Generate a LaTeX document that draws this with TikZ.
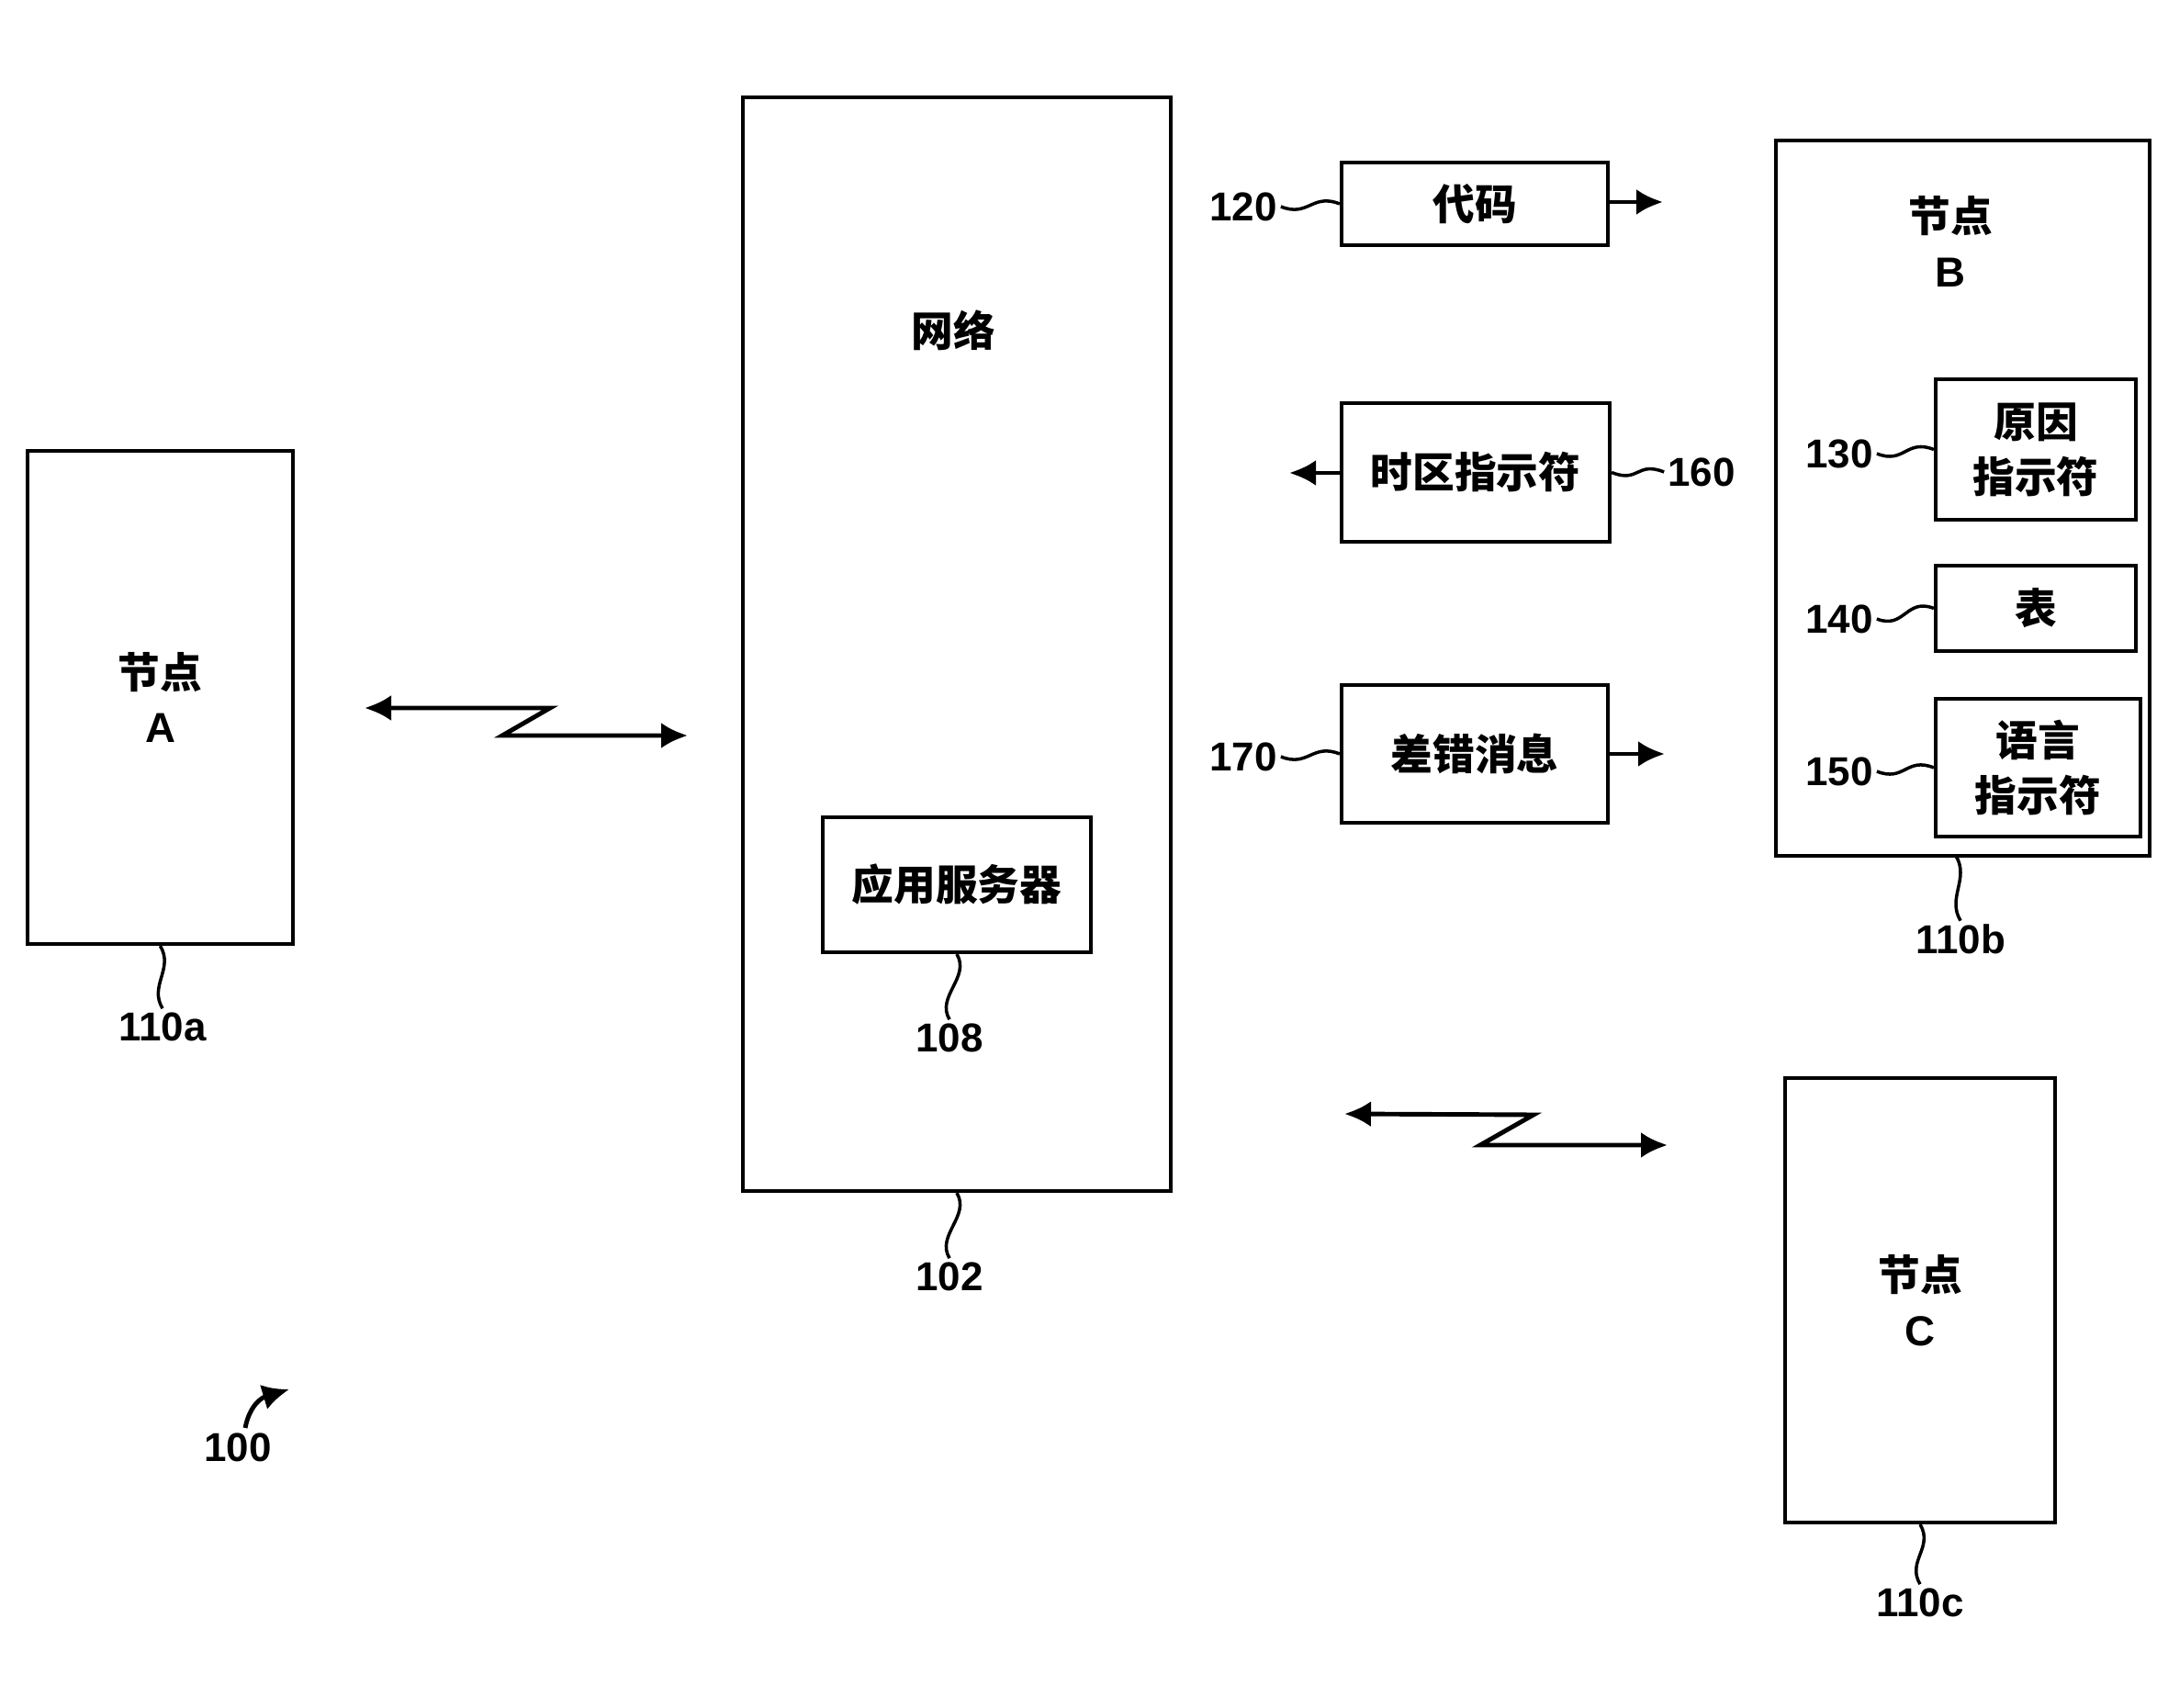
\documentclass[tikz,border=0pt]{standalone}
\usepackage{fontspec}
\setmainfont{Liberation Sans}
\newfontfamily\cjk{Noto Sans CJK SC}
\usetikzlibrary{arrows.meta}
\tikzset{%
    >={Latex[length=2.9mm,width=2.8mm]},
    box/.style={draw, line width=1.2pt, inner sep=0pt, font=\cjk\bfseries\fontsize{13}{17}\selectfont, align=center},
    txt/.style={font=\cjk\bfseries\fontsize{13}{17}\selectfont, align=center},
    num/.style={font=\bfseries\fontsize{12.5}{14}\selectfont, inner sep=1pt},
    lead/.style={line width=1pt},
    arr/.style={line width=1.4pt}
}

\begin{document}
\begin{tikzpicture}
        \useasboundingbox (0,0) rectangle (23.49,-18.60);

        % node A
        \node[box, minimum width=2.89cm, minimum height=5.37cm] (nodeA) at (1.745,-7.595) {节点\\{\normalfont\bfseries A}};
        \node[num] (n110a) at (1.77,-11.18) {110a};
        \draw[lead] (nodeA.south) .. controls +(0.15,-0.25) and +(-0.15,0.25) .. (n110a.north);

        % network with application server
        \node[box, minimum width=4.66cm, minimum height=11.91cm] (network) at (10.42,-7.015) {};
        \node[txt] (netlbl) at (10.38,-3.60) {网络};
        \node[box, minimum width=2.92cm, minimum height=1.47cm] (appsrv) at (10.42,-9.635) {应用服务器};
        \node[num] (n108) at (10.34,-11.30) {108};
        \node[num] (n102) at (10.34,-13.90) {102};
        \draw[lead] (appsrv.south) .. controls +(0.15,-0.25) and +(-0.15,0.25) .. (n108.north);
        \draw[lead] (network.south) .. controls +(0.15,-0.25) and +(-0.15,0.25) .. (n102.north);

        % wireless links
        \coordinate (zA1) at (3.97,-7.71);
        \coordinate (zA2) at (5.99,-7.71);
        \coordinate (zA3) at (5.47,-8.01);
        \coordinate (zA4) at (7.49,-8.01);
        \draw[arr, <->] (zA1) -- (zA2) -- (zA3) -- (zA4);
        \coordinate (zC1) at (14.64,-12.13);
        \coordinate (zC2) at (16.70,-12.14);
        \coordinate (zC3) at (16.12,-12.47);
        \coordinate (zC4) at (18.16,-12.47);
        \draw[arr, <->] (zC1) -- (zC2) -- (zC3) -- (zC4);

        % messages
        \node[box, minimum width=2.90cm, minimum height=0.90cm] (code) at (16.06,-2.22) {代码};
        \node[box, minimum width=2.92cm, minimum height=1.51cm] (tzone) at (16.07,-5.145) {时区指示符};
        \node[box, minimum width=2.90cm, minimum height=1.50cm] (errmsg) at (16.06,-8.21) {差错消息};
        \coordinate (codeout) at (18.11,-2.20);
        \coordinate (tzout) at (14.04,-5.15);
        \coordinate (errout) at (18.13,-8.21);
        \draw[arr, ->] (code.east |- codeout) -- (codeout);
        \draw[arr, ->] (tzone.west |- tzout) -- (tzout);
        \draw[arr, ->] (errmsg.east) -- (errout);
        \node[num] (n120) at (13.54,-2.25) {120};
        \node[num] (n160) at (18.53,-5.14) {160};
        \node[num] (n170) at (13.54,-8.24) {170};
        \draw[lead] (n120.east) .. controls +(0.3,-0.12) and +(-0.3,0.12) .. (code.west);
        \draw[lead] (tzone.east) .. controls +(0.3,-0.12) and +(-0.3,0.12) .. (n160.west);
        \draw[lead] (n170.east) .. controls +(0.3,-0.12) and +(-0.3,0.12) .. (errmsg.west);

        % node B
        \node[box, minimum width=4.07cm, minimum height=7.79cm] (nodeB) at (21.375,-5.425) {};
        \node[txt] (nodeBlbl) at (21.24,-2.63) {节点\\{\normalfont\bfseries B}};
        \node[box, minimum width=2.18cm, minimum height=1.53cm] (reason) at (22.17,-4.895) {原因\\指示符};
        \node[box, minimum width=2.18cm, minimum height=0.93cm] (table) at (22.17,-6.625) {表};
        \node[box, minimum width=2.23cm, minimum height=1.50cm] (lang) at (22.195,-8.36) {语言\\指示符};
        \node[num] (n130) at (20.03,-4.94) {130};
        \node[num] (n140) at (20.03,-6.74) {140};
        \node[num] (n150) at (20.03,-8.40) {150};
        \draw[lead] (n130.east) .. controls +(0.3,-0.12) and +(-0.3,0.12) .. (reason.west);
        \draw[lead] (n140.east) .. controls +(0.3,-0.12) and +(-0.3,0.12) .. (table.west);
        \draw[lead] (n150.east) .. controls +(0.3,-0.12) and +(-0.3,0.12) .. (lang.west);
        \node[num] (n110b) at (21.35,-10.23) {110b};
        \draw[lead] (21.30,-9.32) .. controls +(0.15,-0.25) and +(-0.15,0.25) .. (n110b.north);

        % node C
        \node[box, minimum width=2.94cm, minimum height=4.84cm] (nodeC) at (20.91,-14.16) {节点\\{\normalfont\bfseries C}};
        \node[num] (n110c) at (20.91,-17.45) {110c};
        \draw[lead] (nodeC.south) .. controls +(0.15,-0.25) and +(-0.15,0.25) .. (n110c.north);

        % system reference
        \node[num] (n100) at (2.59,-15.76) {100};
        \coordinate (a100) at (3.15,-15.13);
        \draw[arr, ->] (2.67,-15.55) .. controls (2.72,-15.30) and (2.85,-15.22) .. (a100);
\end{tikzpicture}
\end{document}
